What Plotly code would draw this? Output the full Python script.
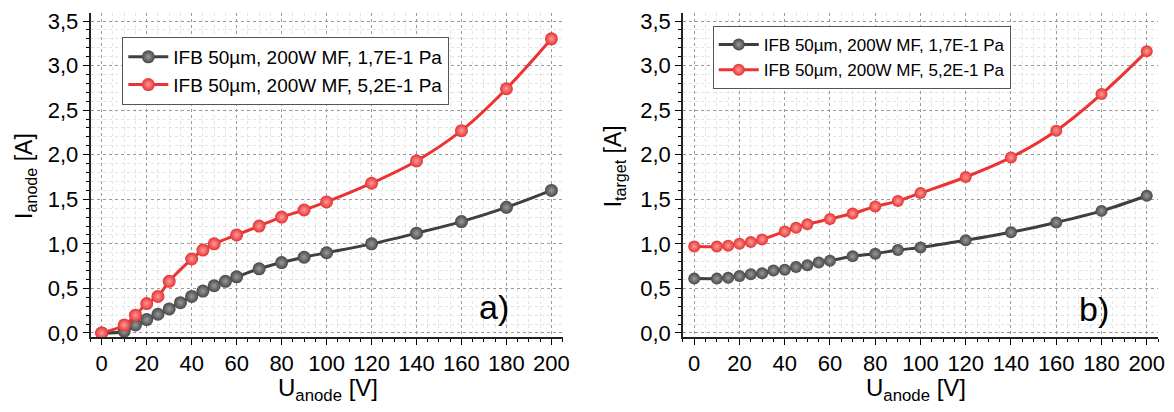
import plotly.graph_objects as go

# ---- data ----
u_a_red = [0, 10, 15, 20, 25, 30, 40, 45, 50, 60, 70, 80, 90, 100, 120, 140, 160, 180, 200]
i_a_red = [0.00, 0.09, 0.20, 0.33, 0.41, 0.58, 0.83, 0.93, 1.00, 1.10, 1.20, 1.30, 1.38, 1.47, 1.68, 1.93, 2.27, 2.74, 3.30]
u_a_blk = [0, 10, 15, 20, 25, 30, 35, 40, 45, 50, 55, 60, 70, 80, 90, 100, 120, 140, 160, 180, 200]
i_a_blk = [0.00, 0.02, 0.09, 0.15, 0.21, 0.27, 0.34, 0.41, 0.47, 0.53, 0.58, 0.63, 0.72, 0.79, 0.85, 0.90, 1.00, 1.12, 1.25, 1.41, 1.60]

u_b_red = [0, 10, 15, 20, 25, 30, 40, 45, 50, 60, 70, 80, 90, 100, 120, 140, 160, 180, 200]
i_b_red = [0.97, 0.97, 0.98, 1.00, 1.02, 1.05, 1.14, 1.18, 1.22, 1.28, 1.34, 1.42, 1.48, 1.57, 1.75, 1.97, 2.27, 2.68, 3.16]
u_b_blk = [0, 10, 15, 20, 25, 30, 35, 40, 45, 50, 55, 60, 70, 80, 90, 100, 120, 140, 160, 180, 200]
i_b_blk = [0.61, 0.61, 0.62, 0.64, 0.66, 0.67, 0.70, 0.71, 0.74, 0.76, 0.79, 0.81, 0.86, 0.89, 0.93, 0.96, 1.04, 1.13, 1.24, 1.37, 1.54]

name_blk = "IFB 50µm, 200W MF, 1,7E-1 Pa"
name_red = "IFB 50µm, 200W MF, 5,2E-1 Pa"
x_ticks = [0, 20, 40, 60, 80, 100, 120, 140, 160, 180, 200]
y_ticks = [0.0, 0.5, 1.0, 1.5, 2.0, 2.5, 3.0, 3.5]
y_ticklabels = ["0,0", "0,5", "1,0", "1,5", "2,0", "2,5", "3,0", "3,5"]

# page body has an 8px margin, so the figure canvas starts at (8, 8)
OFF = 8
W, H = 1174 - OFF, 412 - OFF
T, B = 13 - OFF, 75
FONT = "Arial, Liberation Sans, sans-serif"
GRAY_LINE = "#3f3f3f"
GRAY_MK = "#484848"
RED_LINE = "#ec3232"
RED_MK = "#e53333"


def px(x):
    return (x - OFF) / W


def py(y):
    return (337 - y) / 324


fig = go.Figure()


def add(x, y, name, line_c, mk_c, hi_c, xa, ya, legend, msize):
    fig.add_trace(go.Scatter(
        x=x, y=y, name=name, mode="lines+markers",
        line=dict(color=line_c, width=3, shape="spline", smoothing=1),
        marker=dict(size=msize, color=mk_c, line=dict(width=0),
                    gradient=dict(type="radial", color=hi_c)),
        xaxis=xa, yaxis=ya, legend=legend))


add(u_a_blk, i_a_blk, name_blk, GRAY_LINE, GRAY_MK, "#9a9a9a", "x", "y", "legend", 13)
add(u_a_red, i_a_red, name_red, RED_LINE, RED_MK, "#ff9a9a", "x", "y", "legend", 13)
add(u_b_blk, i_b_blk, name_blk, GRAY_LINE, GRAY_MK, "#9a9a9a", "x2", "y2", "legend2", 12)
add(u_b_red, i_b_red, name_red, RED_LINE, RED_MK, "#ff9a9a", "x2", "y2", "legend2", 12)

xcommon = dict(
    range=[-5, 205], tickvals=x_ticks, ticks="outside", ticklen=6, tickwidth=1.2,
    tickcolor="black", showline=True, linecolor="#222", linewidth=1.5,
    showgrid=True, gridcolor="#9a9a9a", griddash="dot", gridwidth=1,
    tickfont=dict(family=FONT, size=22, color="black"), zeroline=False,
    minor=dict(dtick=5, tick0=0, ticks="outside", ticklen=3, tickcolor="black",
               showgrid=True, gridcolor="#e3e3e3", gridwidth=1),
)
ycommon = dict(
    range=[-0.045, 3.59], tickvals=y_ticks, ticktext=y_ticklabels, ticks="outside",
    ticklen=6, tickwidth=1.2, tickcolor="black", showline=True, linecolor="#222",
    linewidth=1.5, showgrid=True, gridcolor="#9a9a9a", griddash="dot", gridwidth=1,
    tickfont=dict(family=FONT, size=22, color="black"), zeroline=False,
    minor=dict(dtick=0.1, tick0=0, ticks="outside", ticklen=3, tickcolor="black",
               showgrid=True, gridcolor="#e3e3e3", gridwidth=1),
)

fig.update_layout(
    width=W, height=H,
    margin=dict(l=0, r=0, t=T, b=B),
    paper_bgcolor="white", plot_bgcolor="white",
    font=dict(family=FONT, color="black"),
    xaxis=dict(domain=[px(91), px(566)], anchor="y", **xcommon),
    yaxis=dict(anchor="x", **ycommon),
    xaxis2=dict(domain=[px(687), px(1165)], anchor="y2", **xcommon),
    yaxis2=dict(anchor="x2", **ycommon),
    legend=dict(x=px(123), y=py(37), xanchor="left", yanchor="top",
                bgcolor="white", bordercolor="#555", borderwidth=1,
                font=dict(family=FONT, size=19, color="black"),
                tracegroupgap=0, itemwidth=40),
    legend2=dict(x=px(717), y=py(26), xanchor="left", yanchor="top",
                 bgcolor="white", bordercolor="#555", borderwidth=1,
                 font=dict(family=FONT, size=17, color="black"),
                 tracegroupgap=0, itemwidth=40),
    showlegend=True,
)

ann = [
    dict(text="I<sub>anode</sub> [A]", x=px(25), y=py(176), textangle=-90, size=23),
    dict(text="I<sub>target</sub> [A]", x=px(618), y=py(166), textangle=-90, size=23),
    dict(text="U<sub>anode</sub>&nbsp;[V]", x=px(330), y=py(389), textangle=0, size=24),
    dict(text="U<sub>anode</sub>&nbsp;[V]", x=px(921), y=py(389), textangle=0, size=24),
    dict(text="a)", x=px(497), y=py(307), textangle=0, size=34),
    dict(text="b)", x=px(1101), y=py(309), textangle=0, size=34),
]
for a in ann:
    fig.add_annotation(text=a["text"], x=a["x"], y=a["y"], xref="paper", yref="paper",
                       xanchor="center", yanchor="middle", showarrow=False,
                       textangle=a["textangle"],
                       font=dict(family=FONT, size=a["size"], color="black"))

fig.write_html("out.html")
